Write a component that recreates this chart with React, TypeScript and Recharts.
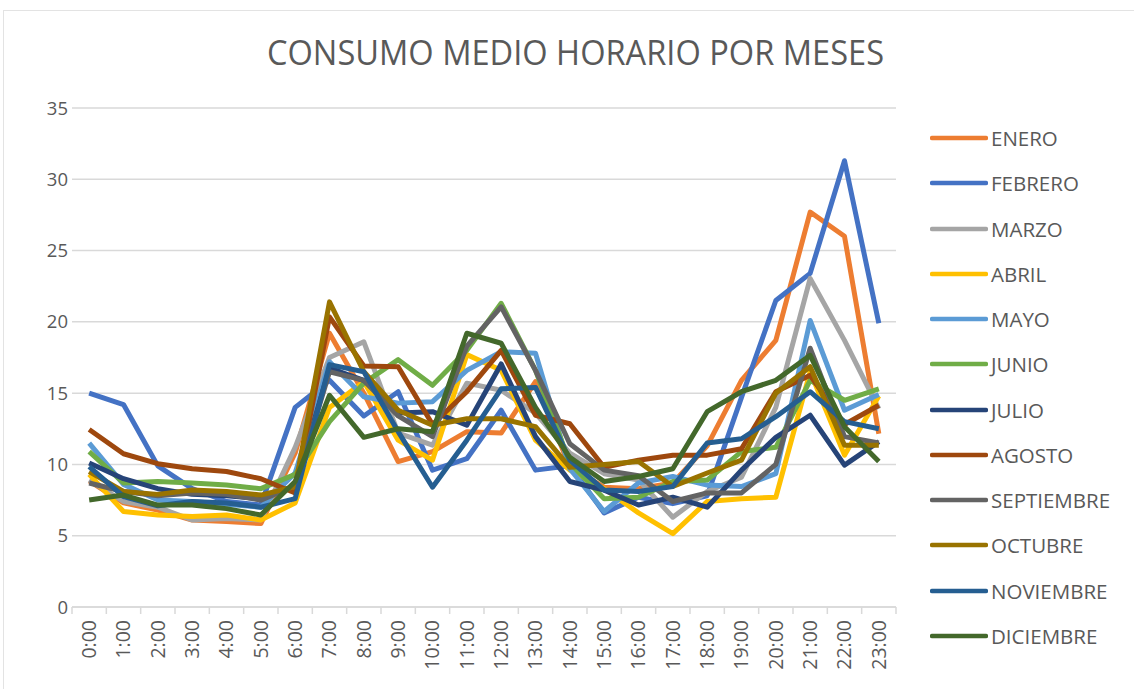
import { CartesianGrid, Legend, Line, LineChart, XAxis, YAxis } from "recharts";

const HORAS = [
  "0:00", "1:00", "2:00", "3:00", "4:00", "5:00", "6:00", "7:00", "8:00", "9:00", "10:00", "11:00",
  "12:00", "13:00", "14:00", "15:00", "16:00", "17:00", "18:00", "19:00", "20:00", "21:00", "22:00", "23:00",
];
const Y_TICKS = [0, 5, 10, 15, 20, 25, 30, 35];
const BOUNDARY_TICKS = HORAS.map((_, i) => i).concat(HORAS.length);

const ENERO = [8.85, 7.3, 6.8, 6.1, 6.0, 5.85, 10.8, 19.2, 15.0, 10.2, 10.9, 12.3, 12.2, 15.8, 9.8, 8.4, 8.3, 8.7, 11.3, 15.9, 18.7, 27.7, 26.0, 12.15];
const FEBRERO = [15.0, 14.2, 9.9, 8.3, 7.4, 7.15, 14.0, 15.9, 13.4, 15.1, 9.6, 10.4, 13.8, 9.6, 9.9, 6.6, 7.7, 7.25, 7.8, 14.7, 21.5, 23.4, 31.3, 19.9];
const MARZO = [8.9, 7.4, 7.0, 6.1, 6.2, 6.1, 11.2, 17.5, 18.6, 12.2, 11.35, 15.7, 15.2, 13.6, 10.8, 9.35, 8.9, 6.3, 8.1, 9.1, 14.0, 23.05, 18.7, 13.9];
const ABRIL = [9.3, 6.7, 6.45, 6.35, 6.45, 6.1, 7.3, 14.0, 15.8, 11.7, 10.3, 17.7, 16.6, 11.7, 9.6, 8.3, 6.6, 5.15, 7.4, 7.6, 7.7, 16.5, 10.65, 14.8];
const MAYO = [11.5, 8.6, 7.5, 7.4, 7.2, 7.0, 9.4, 17.2, 14.75, 14.3, 14.4, 16.6, 17.9, 17.8, 9.7, 6.7, 8.7, 9.15, 8.55, 8.45, 9.35, 20.1, 13.8, 14.9];
const JUNIO = [10.9, 8.7, 8.8, 8.7, 8.55, 8.3, 9.3, 13.0, 15.7, 17.35, 15.55, 18.0, 21.3, 16.6, 10.1, 7.6, 7.7, 8.8, 8.9, 10.9, 11.2, 15.9, 14.5, 15.3];
const JULIO = [10.1, 9.0, 8.3, 7.9, 7.8, 7.6, 8.5, 16.75, 15.9, 13.6, 13.7, 12.75, 17.05, 11.95, 8.8, 8.2, 7.15, 7.7, 7.0, 9.6, 11.9, 13.45, 9.95, 11.6];
const AGOSTO = [12.45, 10.75, 10.05, 9.7, 9.5, 9.0, 8.0, 20.35, 16.9, 16.85, 12.8, 15.1, 18.0, 13.45, 12.85, 9.8, 10.3, 10.65, 10.65, 11.1, 15.1, 16.25, 12.8, 14.15];
const SEPTIEMBRE = [8.7, 8.1, 7.8, 8.0, 7.9, 7.5, 8.5, 16.5, 15.9, 13.4, 11.95, 18.3, 21.05, 16.6, 11.45, 9.6, 9.2, 7.4, 8.0, 8.0, 10.0, 18.15, 11.95, 11.5];
const OCTUBRE = [9.5, 8.1, 7.9, 8.2, 8.1, 7.85, 8.45, 21.4, 16.5, 13.8, 12.75, 13.2, 13.2, 12.65, 9.8, 10.0, 10.2, 8.45, 9.4, 10.3, 15.0, 16.85, 11.35, 11.35];
const NOVIEMBRE = [9.85, 7.75, 7.1, 7.4, 7.3, 7.0, 7.6, 17.0, 16.5, 12.3, 8.4, 11.7, 15.3, 15.4, 10.3, 8.2, 8.1, 8.45, 11.5, 11.8, 13.35, 15.1, 13.0, 12.5];
const DICIEMBRE = [7.5, 7.85, 7.15, 7.15, 6.9, 6.45, 8.8, 14.85, 11.9, 12.5, 12.3, 19.2, 18.5, 14.0, 10.5, 8.8, 9.15, 9.7, 13.7, 15.1, 15.9, 17.65, 12.65, 10.2];

const SERIES = [
  { name: "ENERO", values: ENERO, color: "#ED7D31" },
  { name: "FEBRERO", values: FEBRERO, color: "#4472C4" },
  { name: "MARZO", values: MARZO, color: "#A5A5A5" },
  { name: "ABRIL", values: ABRIL, color: "#FFC000" },
  { name: "MAYO", values: MAYO, color: "#5B9BD5" },
  { name: "JUNIO", values: JUNIO, color: "#70AD47" },
  { name: "JULIO", values: JULIO, color: "#264478" },
  { name: "AGOSTO", values: AGOSTO, color: "#9E480E" },
  { name: "SEPTIEMBRE", values: SEPTIEMBRE, color: "#636363" },
  { name: "OCTUBRE", values: OCTUBRE, color: "#997300" },
  { name: "NOVIEMBRE", values: NOVIEMBRE, color: "#255E91" },
  { name: "DICIEMBRE", values: DICIEMBRE, color: "#43682B" },
];

const TEXT = "#595959";
const FONT = "'Open Sans', 'DejaVu Sans', sans-serif";

const data = HORAS.map((hora, i) => {
  const row: Record<string, string | number> = { hora, pos: i + 0.5 };
  SERIES.forEach((s) => {
    row[s.name] = s.values[i];
  });
  return row;
});

function HourTick({ x, y, payload }: { x?: number; y?: number; payload?: { value: string } }) {
  return (
    <text
      x={x}
      y={y}
      transform={`rotate(-90 ${x} ${y})`}
      textAnchor="end"
      dy="0.35em"
      fill={TEXT}
      fontSize={19.5}
      fontFamily={FONT}
    >
      {payload?.value}
    </text>
  );
}

// legend keeps the series order (recharts would sort it by name)
function MonthLegend() {
  return (
    <div>
      {SERIES.map((s) => (
        <div key={s.name} style={{ height: 45.27, display: "flex", alignItems: "center" }}>
          <svg width={58} height={8}>
            <line x1={2} x2={56} y1={4} y2={4} stroke={s.color} strokeWidth={4.5} strokeLinecap="round" />
          </svg>
          <span style={{ marginLeft: 3, fontSize: 20.5, fontFamily: FONT, color: TEXT }}>{s.name}</span>
        </div>
      ))}
    </div>
  );
}

export default function App() {
  return (
    <div style={{ position: "absolute", left: 0, top: 0, width: 1134, height: 689, background: "#fff", overflow: "hidden" }}>
      <div style={{ position: "absolute", left: 3, top: 10, width: 1140, height: 700, border: "1px solid #e3e3e3" }} />
      <svg width={1134} height={90} style={{ position: "absolute", left: 0, top: 0 }}>
        <text
          x={575.5}
          y={65}
          textAnchor="middle"
          fontSize={34}
          fontFamily={FONT}
          fill={TEXT}
          textLength={617}
          lengthAdjust="spacingAndGlyphs"
        >
          CONSUMO MEDIO HORARIO POR MESES
        </text>
      </svg>
      <div style={{ position: "absolute", left: 0, top: 0 }}>
        <LineChart width={1134} height={689} data={data} margin={{ top: 108, right: 238, bottom: 0, left: 12 }}>
          <CartesianGrid vertical={false} stroke="#d9d9d9" strokeWidth={1.5} />
          <XAxis
            xAxisId="b"
            type="number"
            dataKey="pos"
            domain={[0, 24]}
            ticks={BOUNDARY_TICKS}
            interval={0}
            tickFormatter={() => ""}
            tickSize={7}
            tickLine={{ stroke: "#d9d9d9", strokeWidth: 1.5 }}
            axisLine={{ stroke: "#d9d9d9", strokeWidth: 1.5 }}
            height={10}
          />
          <XAxis
            xAxisId="cat"
            dataKey="hora"
            interval={0}
            axisLine={false}
            tickLine={false}
            tickSize={0}
            tickMargin={3}
            height={72}
            padding={{ left: 17.17, right: 17.17 }}
            tick={<HourTick />}
          />
          <YAxis
            domain={[0, 35]}
            ticks={Y_TICKS}
            interval={0}
            width={60}
            axisLine={false}
            tickLine={false}
            tickSize={0}
            tickMargin={4}
            tick={{ fontSize: 18.5, fill: TEXT, fontFamily: FONT }}
          />
          <Legend
            layout="vertical"
            align="center"
            verticalAlign="middle"
            content={<MonthLegend />}
            wrapperStyle={{ left: 930, top: 115.4, width: 204 }}
          />
          {SERIES.map((s) => (
            <Line
              key={s.name}
              xAxisId="cat"
              type="linear"
              dataKey={s.name}
              name={s.name}
              stroke={s.color}
              strokeWidth={5}
              strokeLinejoin="round"
              dot={false}
              activeDot={false}
              isAnimationActive={false}
            />
          ))}
        </LineChart>
      </div>
    </div>
  );
}
